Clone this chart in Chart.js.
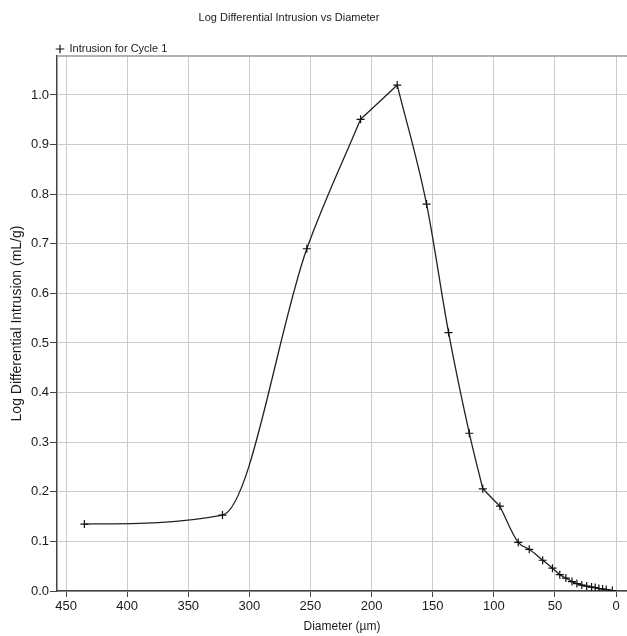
<!DOCTYPE html>
<html>
<head>
<meta charset="utf-8">
<script src="https://cdn.jsdelivr.net/npm/chart.js@4.4.1/dist/chart.umd.min.js"></script>
<style>
  html, body { margin: 0; padding: 0; background: #ffffff; }
  #wrap { width: 627px; height: 636px; }
</style>
</head>
<body>
<div id="wrap"><canvas id="c" width="627" height="636"></canvas></div>
<script>
const chartTitle = "Log Differential Intrusion vs Diameter";
const seriesName = "Intrusion for Cycle 1";
const xAxisTitle = "Diameter (µm)";
const yAxisTitle = "Log Differential Intrusion (mL/g)";

const diameter = [435, 322, 253, 209, 179, 155, 137, 120, 109, 95, 80, 71, 60, 52, 46, 41, 36, 32, 28, 24, 20, 17, 14, 11, 8, 3];
const logDiffIntrusion = [0.135, 0.153, 0.690, 0.951, 1.020, 0.780, 0.521, 0.318, 0.206, 0.171, 0.098, 0.084, 0.062, 0.046, 0.033, 0.026, 0.019, 0.015, 0.012, 0.010, 0.008, 0.007, 0.005, 0.004, 0.003, 0.001];
// indices of measured points where the drawn curve turns sharply
const cornerIndex = [3, 4, 8, 9];

const xTicks = [450, 400, 350, 300, 250, 200, 150, 100, 50, 0];
const yTicks = [0.0, 0.1, 0.2, 0.3, 0.4, 0.5, 0.6, 0.7, 0.8, 0.9, 1.0];

const FONT = "'Liberation Sans', Arial, sans-serif";
const TXT = '#1a1a1a';
const GRID = '#cccccc';
const AXIS = '#444444';

const points = diameter.map((d, i) => ({ x: d, y: logDiffIntrusion[i] }));
// one smooth (monotone) piece between consecutive corners, all in the same style
const cuts = [0, ...cornerIndex, points.length - 1];
const pieces = [];
for (let k = 0; k < cuts.length - 1; k++) pieces.push(points.slice(cuts[k], cuts[k + 1] + 1));

const shiftPlugin = {
  id: 'shift',
  afterLayout(chart) {
    if (chart.titleBlock) { chart.titleBlock.left = 0; chart.titleBlock.right = 578; }
    if (chart.legend) { chart.legend.left = 50; chart.legend.top += 8.5; }
  },
  afterDraw(chart) {
    const a = chart.chartArea, ctx = chart.ctx;
    ctx.save();
    ctx.strokeStyle = '#999999';
    ctx.lineWidth = 1.5;
    ctx.beginPath();
    ctx.moveTo(a.left, a.top);
    ctx.lineTo(a.right, a.top);
    ctx.stroke();
    ctx.restore();
  }
};

const lineStyle = {
  borderColor: '#222222',
  backgroundColor: '#222222',
  borderWidth: 1.3,
  pointStyle: 'cross',
  pointBorderWidth: 1.2,
  pointBorderColor: '#111111',
  cubicInterpolationMode: 'monotone',
  fill: false
};

const datasets = pieces.map((piece, k) => Object.assign({
  label: k === 0 ? seriesName : seriesName + ' (' + k + ')',
  data: piece,
  pointRadius: k === 0 ? 4 : (ctx => (ctx.dataIndex === 0 ? 0 : 4))
}, lineStyle));

new Chart(document.getElementById('c'), {
  type: 'line',
  data: { datasets },
  options: {
    responsive: false,
    animation: false,
    devicePixelRatio: 1,
    layout: { autoPadding: false, padding: { left: 0, right: 0, top: 0, bottom: 0 } },
    plugins: {
      title: {
        display: true,
        text: chartTitle,
        color: TXT,
        font: { family: FONT, size: 11, weight: 'normal' },
        padding: { top: 11, bottom: 4.8 }
      },
      legend: {
        display: true,
        align: 'start',
        labels: {
          usePointStyle: true,
          boxWidth: 8,
          boxHeight: 6,
          padding: 6,
          color: TXT,
          font: { family: FONT, size: 11 },
          filter: item => item.datasetIndex === 0
        }
      },
      tooltip: { enabled: false }
    },
    scales: {
      x: {
        type: 'linear',
        reverse: true,
        min: -9,
        max: 457.4,
        afterBuildTicks: s => { s.ticks = xTicks.map(v => ({ value: v })); },
        afterFit: s => { s.height = 45; },
        ticks: {
          color: TXT,
          font: { family: FONT, size: 13 },
          padding: 2,
          maxRotation: 0,
          callback: v => String(v)
        },
        grid: { color: GRID, lineWidth: 1, tickLength: 6, tickColor: AXIS },
        border: { display: true, color: AXIS, width: 1.5 },
        title: {
          display: true,
          text: xAxisTitle,
          color: TXT,
          font: { family: FONT, size: 12 },
          padding: { top: 0, bottom: 2 }
        }
      },
      y: {
        type: 'linear',
        min: 0,
        max: 1.0786,
        afterBuildTicks: s => { s.ticks = yTicks.map(v => ({ value: v })); },
        afterFit: s => { s.width = 57; },
        ticks: {
          color: TXT,
          font: { family: FONT, size: 13 },
          padding: 1,
          callback: v => Number(v).toFixed(1)
        },
        grid: { color: GRID, lineWidth: 1, tickLength: 7, tickColor: AXIS },
        border: { display: true, color: AXIS, width: 1.5 },
        title: {
          display: true,
          text: yAxisTitle,
          color: TXT,
          font: { family: FONT, size: 14 },
          padding: { top: 9, bottom: 0 }
        }
      }
    }
  },
  plugins: [shiftPlugin]
});
</script>
</body>
</html>
